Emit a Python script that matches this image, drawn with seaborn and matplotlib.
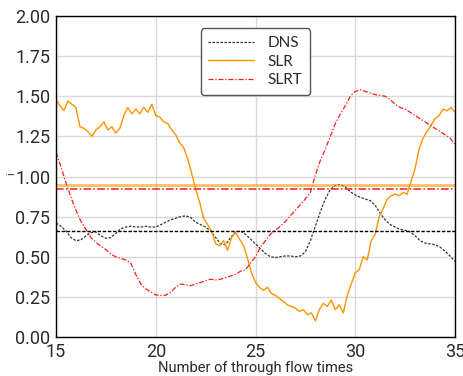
import numpy as np
import pandas as pd
import matplotlib
matplotlib.use("Agg")
import matplotlib.pyplot as plt
import seaborn as sns

# ---- data ----
x_dns = [15.0 + 0.25 * i for i in range(81)]
dns = [0.71, 0.69, 0.66, 0.62, 0.60, 0.605, 0.63, 0.65, 0.655, 0.63, 0.615, 0.62, 0.645,
       0.675, 0.685, 0.69, 0.685, 0.685, 0.69, 0.685, 0.685, 0.70, 0.715, 0.73, 0.74,
       0.75, 0.755, 0.745, 0.715, 0.70, 0.685, 0.66, 0.62, 0.58, 0.575, 0.62, 0.655,
       0.66, 0.64, 0.61, 0.58, 0.55, 0.52, 0.50, 0.495, 0.50, 0.505, 0.505, 0.50, 0.505,
       0.53, 0.60, 0.69, 0.78, 0.86, 0.92, 0.945, 0.95, 0.935, 0.905, 0.885, 0.87, 0.86,
       0.85, 0.82, 0.77, 0.73, 0.70, 0.685, 0.67, 0.665, 0.655, 0.63, 0.60, 0.585, 0.58,
       0.575, 0.56, 0.535, 0.505, 0.47]

x_slrt = x_dns
slrt = [1.15, 1.06, 0.96, 0.87, 0.79, 0.72, 0.67, 0.62, 0.59, 0.565, 0.545, 0.515, 0.50,
        0.49, 0.48, 0.46, 0.39, 0.33, 0.30, 0.28, 0.262, 0.26, 0.26, 0.28, 0.31, 0.33,
        0.325, 0.32, 0.33, 0.34, 0.35, 0.36, 0.355, 0.36, 0.37, 0.38, 0.39, 0.41, 0.42,
        0.46, 0.50, 0.56, 0.60, 0.64, 0.665, 0.69, 0.72, 0.755, 0.79, 0.825, 0.86, 0.90,
        1.01, 1.10, 1.17, 1.25, 1.33, 1.39, 1.44, 1.50, 1.53, 1.54, 1.53, 1.52, 1.51,
        1.505, 1.50, 1.48, 1.45, 1.43, 1.42, 1.40, 1.38, 1.36, 1.34, 1.32, 1.30, 1.28,
        1.26, 1.24, 1.20]

x_slr = [15.0 + 0.2 * i for i in range(101)]
slr = [1.48, 1.44, 1.41, 1.47, 1.45, 1.43, 1.31, 1.30, 1.28, 1.25, 1.29, 1.31, 1.34,
       1.29, 1.31, 1.27, 1.30, 1.38, 1.43, 1.39, 1.42, 1.39, 1.43, 1.40, 1.45, 1.38,
       1.37, 1.34, 1.33, 1.29, 1.26, 1.21, 1.18, 1.11, 1.02, 0.92, 0.84, 0.74, 0.70,
       0.66, 0.58, 0.57, 0.60, 0.54, 0.62, 0.65, 0.61, 0.57, 0.49, 0.40, 0.34, 0.31,
       0.29, 0.31, 0.27, 0.26, 0.24, 0.22, 0.20, 0.19, 0.18, 0.16, 0.17, 0.14, 0.15,
       0.10, 0.17, 0.21, 0.19, 0.23, 0.17, 0.20, 0.15, 0.26, 0.33, 0.40, 0.42, 0.50,
       0.48, 0.60, 0.64, 0.75, 0.80, 0.86, 0.88, 0.89, 0.88, 0.90, 0.89, 0.97, 1.05,
       1.17, 1.24, 1.28, 1.32, 1.36, 1.38, 1.42, 1.41, 1.43, 1.40]

mean_dns = 0.66
mean_slr = 0.947
mean_slrt = 0.925

labels = ["DNS", "SLR", "SLRT"]
xticks = [15, 20, 25, 30, 35]
yticks = [0.0, 0.25, 0.5, 0.75, 1.0, 1.25, 1.5, 1.75, 2.0]

# ---- plot ----
sns.set_theme(style="whitegrid")
plt.rcParams["font.family"] = ["Roboto", "DejaVu Sans"]

fig = plt.figure(figsize=(4.64, 3.76), dpi=100)
ax = fig.add_axes([56 / 464, 39 / 376, 399 / 464, 321 / 376])

c_slr = "#ff9400"
c_slrt = "#ff1a1a"
txt = "#2a2a2a"

sns.lineplot(x=x_dns, y=dns, ax=ax, color="#333333", lw=0.9, linestyle=(0, (2, 1.2)), label=labels[0])
sns.lineplot(x=x_slr, y=slr, ax=ax, color=c_slr, lw=1.0, label=labels[1])
sns.lineplot(x=x_slrt, y=slrt, ax=ax, color=c_slrt, lw=0.9, linestyle=(0, (4, 1.5, 1, 1.5)), label=labels[2])

ax.axhline(mean_dns, color="black", lw=1.0, linestyle=(0, (2.5, 1.2)))
ax.axhline(mean_slr, color=c_slr, lw=2.0, alpha=0.6)
ax.axhline(mean_slrt, color=c_slrt, lw=1.1, linestyle=(0, (5, 1.5, 1, 1.5)))

ax.set_xlim(15, 35)
ax.set_ylim(0, 2)
ax.set_xticks(xticks)
ax.set_xticklabels([str(t) for t in xticks])
ax.set_yticks(yticks)
ax.set_yticklabels([f"{t:.2f}" for t in yticks])
ax.grid(True, color="#d9d9d9", lw=1.0)
for s in ax.spines.values():
    s.set_color("black")
    s.set_linewidth(1.0)
ax.tick_params(axis="both", which="both", direction="out", length=3, width=0.8,
               color="black", labelsize=13, labelcolor=txt, pad=1)
ax.set_xlabel("Number of through flow times", fontsize=10.5, color=txt, labelpad=0)
ax.set_ylabel("i", fontsize=8, color=txt)
ax.yaxis.set_label_coords(-0.1, 0.51)

leg = ax.legend(loc="upper center", bbox_to_anchor=(0.5, 0.985), frameon=True,
                prop={"family": ["Lato", "DejaVu Sans"], "size": 11},
                handlelength=3.0, handletextpad=0.9, borderpad=0.5, labelspacing=0.3,
                fancybox=True)
for t in leg.get_texts():
    t.set_color(txt)
leg.get_frame().set_edgecolor("#555555")
leg.get_frame().set_linewidth(1.0)
leg.get_frame().set_alpha(1.0)

fig.savefig("out.png", dpi=100)
